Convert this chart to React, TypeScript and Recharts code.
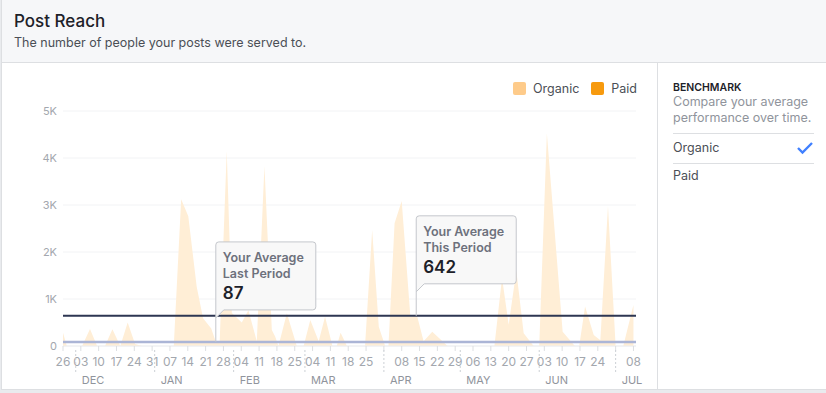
import {
  ComposedChart,
  Area,
  XAxis,
  YAxis,
  CartesianGrid,
  ReferenceLine,
  ReferenceDot,
} from "recharts";

const FONT = "Inter, 'Noto Sans', Arial, sans-serif";

// x = days counted from Sun 26 Nov 2017, vertices
const reachDays = [
  0, 1.5, 7.5, 10.6, 13.4, 16.5, 19.4, 22.5, 25.4, 28.3, 31, 43.5, 46.4, 49.2,
  52.5, 55, 58.2, 60, 61.5, 64.3, 66.3, 70.2, 72.8, 76.1, 79.1, 82, 83.3, 84.6,
  87.9, 91.8, 94.5, 97.1, 100.4, 102.9, 105.8, 107.5, 109, 111.5, 118.6, 121.4,
  124, 126.5, 127.8, 130.2, 133, 136.4, 139, 141.6, 145, 151, 169.4, 172.4, 175,
  178, 180.9, 184.8, 187, 190, 196.2, 201, 202.7, 205, 208.4, 211, 214, 217,
  220, 224,
];
const organicReach = [
  280, 0, 0, 360, 0, 0, 355, 0, 500, 40, 0, 0, 3120, 2760, 1260, 590, 375, 90,
  60, 4150, 700, 500, 760, 100, 3830, 340, 200, 0, 695, 0, 0, 553, 100, 625, 0,
  0, 280, 0, 0, 2470, 410, 0, 0, 2610, 3085, 625, 650, 100, 305, 0, 0, 1450,
  450, 1600, 270, 0, 0, 4525, 305, 0, 0, 840, 235, 120, 2980, 0, 0, 870,
];

const yTicks = [0, 1000, 2000, 3000, 4000, 5000];
const yLabels = ["0", "1K", "2K", "3K", "4K", "5K"];

const weekLabels = [
  "26", "03", "10", "17", "24", "31", "07", "14", "21", "28", "04", "11", "18",
  "25", "04", "11", "18", "25", "", "08", "15", "22", "29", "06", "13", "20",
  "27", "03", "10", "17", "24", "", "08",
];
const weekTicks = weekLabels.map((_, i) => i * 7);

const monthLabels = ["DEC", "JAN", "FEB", "MAR", "APR", "MAY", "JUN", "JUL"];
const monthStarts = [5, 36, 67, 95, 126, 156, 187, 217];

const lastPeriodAvg = 87;
const thisPeriodAvg = 642;
const lastPeriodDay = 60;
const thisPeriodDay = 138.7;

const legendItems = [
  { name: "Organic", color: "#fecb8a" },
  { name: "Paid", color: "#f79a0e" },
];

const data = reachDays.map((day, i) => ({ day, organic: organicReach[i] }));

function MonthTick(props: any) {
  const { x, y, payload } = props;
  const i = monthStarts.indexOf(payload.value);
  return (
    <g>
      <line
        x1={x}
        x2={x}
        y1={y - 14}
        y2={y + 10}
        stroke="#ccd0d5"
        strokeDasharray="2 2"
      />
      <text
        x={x + 6}
        y={y + 20}
        fontSize={11}
        fill="#90949c"
        fontFamily={FONT}
        textAnchor="start"
      >
        {monthLabels[i]}
      </text>
    </g>
  );
}

function Callout(props: any) {
  const { cx, cy, lines, value } = props;
  const left = cx;
  const top = cy - 100;
  const w = 100;
  const bottom = top + 68;
  const r = 3;
  const d = `M${left},${top + r} Q${left},${top} ${left + r},${top} H${left + w - r} Q${left + w},${top} ${left + w},${top + r} V${bottom - r} Q${left + w},${bottom} ${left + w - r},${bottom} H${left + 8} L${left},${bottom + 8} Z`;
  return (
    <g>
      <line x1={left} x2={left} y1={bottom + 8} y2={cy} stroke="#c4c7cc" />
      <path d={d} fill="#f8f8f8" stroke="#c4c7cc" />
      <text x={left + 7} y={top + 20} fontSize={12.5} fontWeight={600} fill="#6d717c" fontFamily={FONT}>
        {lines[0]}
      </text>
      <text x={left + 7} y={top + 36} fontSize={12.5} fontWeight={600} fill="#6d717c" fontFamily={FONT}>
        {lines[1]}
      </text>
      <text x={left + 7} y={top + 57} fontSize={17} fontWeight={600} fill="#1d2129" fontFamily={FONT}>
        {value}
      </text>
    </g>
  );
}

export default function App() {
  return (
    <div
      style={{
        position: "absolute",
        left: 0,
        top: 0,
        width: 826,
        height: 393,
        background: "#e9ebee",
        fontFamily: FONT,
        overflow: "hidden",
      }}
    >
      {/* card */}
      <div
        style={{
          position: "absolute",
          left: 1,
          top: 0,
          width: 830,
          height: 389,
          background: "#fff",
          border: "1px solid #dddfe2",
          borderTop: "none",
        }}
      />
      {/* header */}
      <div
        style={{
          position: "absolute",
          left: 2,
          top: 0,
          width: 826,
          height: 62,
          background: "#f6f7f9",
          borderBottom: "1px solid #dddfe2",
        }}
      >
        <div
          style={{
            position: "absolute",
            left: 12,
            top: 11,
            fontSize: 17,
            lineHeight: "20px",
            color: "#1d2129",
            fontWeight: 500,
          }}
        >
          Post Reach
        </div>
        <div
          style={{
            position: "absolute",
            left: 12,
            top: 35,
            fontSize: 12.5,
            lineHeight: "16px",
            color: "#4b4f56",
          }}
        >
          The number of people your posts were served to.
        </div>
      </div>

      {/* right benchmark panel */}
      <div
        style={{
          position: "absolute",
          left: 657,
          top: 63,
          width: 169,
          height: 326,
          borderLeft: "1px solid #dddfe2",
        }}
      >
        <div
          style={{
            position: "absolute",
            left: 15,
            top: 18,
            fontSize: 10.5,
            fontWeight: 600,
            color: "#1d2129",
            lineHeight: "14px",
          }}
        >
          BENCHMARK
        </div>
        <div
          style={{
            position: "absolute",
            left: 15,
            top: 31,
            width: 145,
            fontSize: 12.5,
            color: "#90949c",
            lineHeight: "16px",
          }}
        >
          Compare your average performance over time.
        </div>
        <div
          style={{
            position: "absolute",
            left: 15,
            top: 70,
            width: 141,
            height: 29,
            borderTop: "1px solid #dddfe2",
            borderBottom: "1px solid #dddfe2",
            fontSize: 12.5,
            color: "#4b4f56",
            lineHeight: "28px",
          }}
        >
          Organic
          <svg
            width={18}
            height={14}
            style={{ position: "absolute", right: 0, top: 7 }}
          >
            <polyline
              points="2,7 6.5,11.5 16,2"
              fill="none"
              stroke="#4080ff"
              strokeWidth={2.4}
            />
          </svg>
        </div>
        <div
          style={{
            position: "absolute",
            left: 15,
            top: 105,
            fontSize: 12.5,
            color: "#4b4f56",
            lineHeight: "16px",
          }}
        >
          Paid
        </div>
      </div>

      {/* legend */}
      <div
        style={{
          position: "absolute",
          right: 826 - 637,
          top: 81,
          display: "flex",
          alignItems: "center",
          fontSize: 12.5,
          color: "#4b4f56",
        }}
      >
        {legendItems.map((it) => (
          <div
            key={it.name}
            style={{ display: "flex", alignItems: "center", marginLeft: 12 }}
          >
            <span
              style={{
                display: "inline-block",
                width: 13,
                height: 13,
                borderRadius: 2,
                background: it.color,
                marginRight: 7,
              }}
            />
            {it.name}
          </div>
        ))}
      </div>

      <div style={{ position: "absolute", left: 0, top: 63 }}>
        <ComposedChart
          width={657}
          height={330}
          data={data}
          margin={{ top: 48, right: 21, left: 0, bottom: 3 }}
        >
          <CartesianGrid
            vertical={false}
            stroke="#f2f3f5"
            yAxisId="y"
            xAxisId="a"
          />
          <YAxis
            yAxisId="y"
            type="number"
            domain={[0, 5000]}
            ticks={yTicks}
            tickFormatter={(v: number) => yLabels[yTicks.indexOf(v)]}
            width={63}
            axisLine={false}
            tickLine={false}
            tickSize={4}
            tickMargin={2}
            tick={{ fontSize: 11, fill: "#a3a7ae", fontFamily: FONT }}
          />
          <XAxis
            xAxisId="a"
            dataKey="day"
            type="number"
            domain={[0, 225]}
            allowDataOverflow
            ticks={weekTicks}
            interval={0}
            tickFormatter={(v: number) => weekLabels[Math.round(v / 7)]}
            height={18}
            tickSize={5}
            tickMargin={6}
            axisLine={{ stroke: "#eceef1" }}
            tickLine={{ stroke: "#dddfe2" }}
            tick={{ fontSize: 12, fill: "#a3a7ae", fontFamily: FONT }}
          />
          <XAxis
            xAxisId="b"
            dataKey="day"
            type="number"
            domain={[0, 225]}
            allowDataOverflow
            ticks={monthStarts}
            interval={0}
            height={26}
            tickSize={0}
            tickMargin={0}
            axisLine={false}
            tickLine={false}
            tick={<MonthTick />}
          />
          <Area
            xAxisId="a"
            yAxisId="y"
            type="linear"
            dataKey="organic"
            stroke="none"
            fill="#ffeed6"
            fillOpacity={1}
            isAnimationActive={false}
          />
          <ReferenceLine
            xAxisId="a"
            yAxisId="y"
            y={lastPeriodAvg}
            stroke="#abb5d6"
            strokeWidth={2.5}
          />
          <ReferenceLine
            xAxisId="a"
            yAxisId="y"
            y={thisPeriodAvg}
            stroke="#2d3652"
            strokeWidth={2}
          />
          <ReferenceDot
            xAxisId="a"
            yAxisId="y"
            x={lastPeriodDay}
            y={lastPeriodAvg}
            ifOverflow="visible"
            shape={(p: any) => (
              <Callout
                {...p}
                lines={["Your Average", "Last Period"]}
                value={String(lastPeriodAvg)}
              />
            )}
          />
          <ReferenceDot
            xAxisId="a"
            yAxisId="y"
            x={thisPeriodDay}
            y={thisPeriodAvg}
            ifOverflow="visible"
            shape={(p: any) => (
              <Callout
                {...p}
                lines={["Your Average", "This Period"]}
                value={String(thisPeriodAvg)}
              />
            )}
          />
        </ComposedChart>
      </div>
    </div>
  );
}
